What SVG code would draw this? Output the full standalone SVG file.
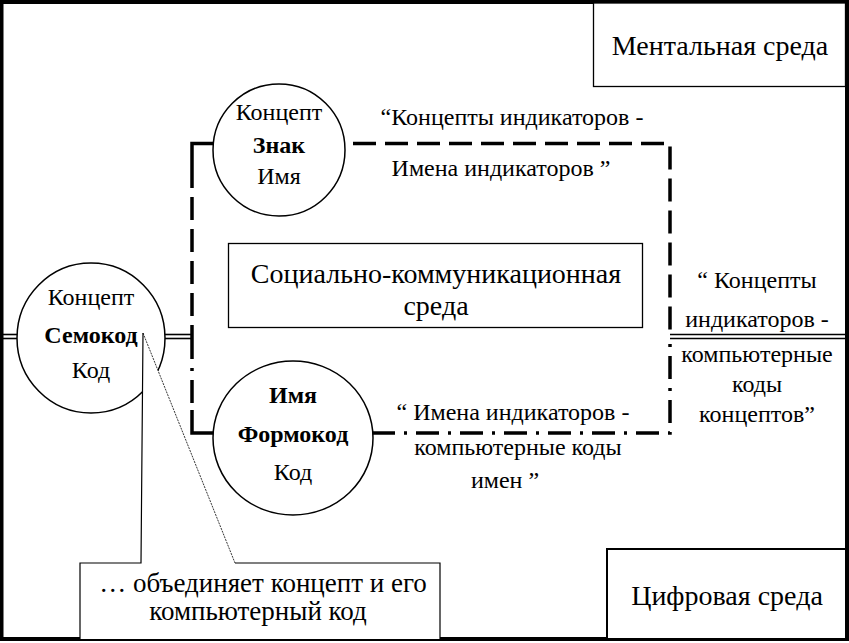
<svg xmlns="http://www.w3.org/2000/svg" width="849" height="643" viewBox="0 0 849 643">
<defs>
<line id="dblseg" x1="0" y1="0" x2="1" y2="0"/>
</defs>
<rect x="0" y="0" width="849" height="643" fill="#fff"/>
<g id="connectors" fill="none" stroke="#000">
<g stroke-width="1.6">
<line x1="0" y1="334.5" x2="18" y2="334.5"/>
<line x1="0" y1="338.5" x2="18" y2="338.5"/>
<line x1="164" y1="334.5" x2="192" y2="334.5"/>
<line x1="164" y1="338.5" x2="192" y2="338.5"/>
<line x1="670" y1="334.5" x2="849" y2="334.5"/>
<line x1="670" y1="338.5" x2="849" y2="338.5"/>
</g>
<path stroke-width="3.5" d="M192 165 V143.5 H216"/>
<path stroke-width="3.5" stroke-dasharray="23 9" d="M192 165 V336"/>
<path stroke-width="3.5" stroke-dasharray="23 9" d="M353 143.5 H670 V336"/>
<path stroke-width="3.5" d="M192 410 V433 H214"/>
<path stroke-width="3.5" stroke-dasharray="23 9 3 9" d="M192 336 V410"/>
<path stroke-width="3.5" stroke-dasharray="23 9 3 9" d="M372 433 H670 V336"/>
</g>
<g id="frame">
<rect x="1.5" y="2" width="845.5" height="637" fill="none" stroke="#000" stroke-width="4"/>
</g>
<g id="mental">
<rect x="593.5" y="3" width="252" height="83.5" fill="#fff" stroke="#000" stroke-width="1.3"/>
<text font-family="Liberation Serif" font-size="28" text-anchor="middle" x="720" y="55">Ментальная среда</text>
</g>
<g id="digital">
<rect x="607" y="549" width="239" height="90" fill="#fff" stroke="#000" stroke-width="2"/>
<text font-family="Liberation Serif" font-size="28" text-anchor="middle" x="727" y="605">Цифровая среда</text>
</g>
<g id="social">
<rect x="228.5" y="243.5" width="414" height="84" fill="#fff" stroke="#000" stroke-width="1.3"/>
<text font-family="Liberation Serif" font-size="28" text-anchor="middle" x="436" y="283">Социально-коммуникационная</text>
<text font-family="Liberation Serif" font-size="28" text-anchor="middle" x="436" y="315">среда</text>
</g>
<g id="znak">
<ellipse cx="279" cy="150" rx="66" ry="66" fill="#fff" stroke="#000" stroke-width="1.5"/>
<text font-family="Liberation Serif" font-size="24" text-anchor="middle" x="279" y="120">Концепт</text>
<text font-family="Liberation Serif" font-size="24" text-anchor="middle" font-weight="bold" x="279" y="153">Знак</text>
<text font-family="Liberation Serif" font-size="24" text-anchor="middle" x="279" y="184">Имя</text>
</g>
<g id="semokod">
<ellipse cx="91" cy="338" rx="74" ry="75" fill="#fff" stroke="#000" stroke-width="1.5"/>
<text font-family="Liberation Serif" font-size="24" text-anchor="middle" x="91" y="305">Концепт</text>
<text font-family="Liberation Serif" font-size="24" text-anchor="middle" font-weight="bold" x="91" y="343">Семокод</text>
<text font-family="Liberation Serif" font-size="24" text-anchor="middle" x="91" y="378">Код</text>
</g>
<g id="formokod">
<ellipse cx="293" cy="438" rx="80" ry="77" fill="#fff" stroke="#000" stroke-width="1.5"/>
<text font-family="Liberation Serif" font-size="24" text-anchor="middle" font-weight="bold" x="293" y="403">Имя</text>
<text font-family="Liberation Serif" font-size="24" text-anchor="middle" font-weight="bold" x="293" y="442">Формокод</text>
<text font-family="Liberation Serif" font-size="24" text-anchor="middle" x="293" y="480">Код</text>
</g>
<g id="label-top">
<text font-family="Liberation Serif" font-size="24" text-anchor="middle" x="512" y="125">“Концепты индикаторов -</text>
<text font-family="Liberation Serif" font-size="24" text-anchor="middle" x="501" y="176">Имена индикаторов ”</text>
</g>
<g id="label-bottom">
<text font-family="Liberation Serif" font-size="24" text-anchor="middle" x="513" y="420">“ Имена индикаторов -</text>
<text font-family="Liberation Serif" font-size="24" text-anchor="middle" x="518" y="455">компьютерные коды</text>
<text font-family="Liberation Serif" font-size="24" text-anchor="middle" x="505" y="488">имен ”</text>
</g>
<g id="label-right">
<text font-family="Liberation Serif" font-size="24" text-anchor="middle" x="757" y="288">“ Концепты</text>
<text font-family="Liberation Serif" font-size="24" text-anchor="middle" x="757" y="327">индикаторов -</text>
<text font-family="Liberation Serif" font-size="24" text-anchor="middle" x="757" y="362">компьютерные</text>
<text font-family="Liberation Serif" font-size="24" text-anchor="middle" x="757" y="392">коды</text>
<text font-family="Liberation Serif" font-size="24" text-anchor="middle" x="757" y="422">концептов”</text>
</g>
<g id="callout">
<path d="M80 639 V563 H141 L143 333 L235 563 H440 V639" fill="#fff" stroke="none"/>
<path d="M80 639 V563 H141 L143 333" fill="none" stroke="#000" stroke-width="1.2"/>
<path d="M143 333 L235 563" fill="none" stroke="#000" stroke-width="0.8" stroke-dasharray="2 1"/>
<path d="M235 563 H440 V639" fill="none" stroke="#000" stroke-width="1.2"/>
<text font-family="Liberation Serif" font-size="27" text-anchor="middle" x="263" y="592">… объединяет концепт и его</text>
<text font-family="Liberation Serif" font-size="27" text-anchor="middle" x="258" y="620">компьютерный код</text>
</g>
</svg>
